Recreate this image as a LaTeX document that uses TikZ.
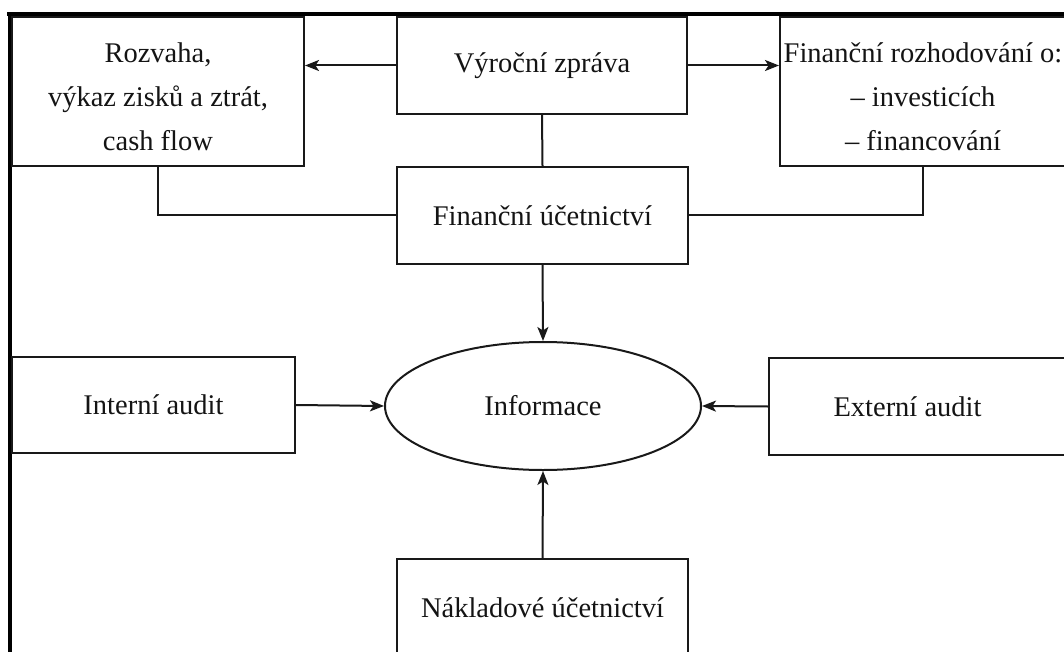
\documentclass[tikz,border=0pt]{standalone}
\usepackage{fontspec}
\setmainfont{Liberation Serif}
\usetikzlibrary{shapes.geometric,arrows.meta}

\tikzset{
  label font/.style={font=\fontsize{28.5}{44}\selectfont, text=black!92},
  box/.style={draw=black!90, line width=2pt, rectangle, inner sep=0pt,
    align=center, label font},
  oval/.style={draw=black!90, line width=2pt, ellipse, inner sep=0pt,
    minimum width=316pt, minimum height=128pt, label font},
  link/.style={line width=2pt, draw=black!90},
  flow/.style={link, -{Stealth[length=14pt,width=11pt,inset=3.5pt]}},
  frame/.style={line width=3.4pt, draw=black}
}
% taller first line, so a three-line block sits a little low in its box
\newcommand\lowstrut{\rule{0pt}{31pt}}

\begin{document}
\begin{tikzpicture}[x=1pt, y=-1pt]
  \useasboundingbox (0,0) rectangle (1064,652);
  \clip (0,0) rectangle (1064,652);
  \fill[white] (0,0) rectangle (1064,652);

  % page frame (top and left rule)
  \draw[frame] (7,14) -- (1070,14);
  \draw[frame] (10,12.3) -- (10,660);

  % boxes
  \node[box, minimum width=292pt, minimum height=149pt] (rozv) at (158,91.5)
    {\lowstrut Rozvaha,\\ výkaz zisků a ztrát,\\ cash flow};
  \node[box, minimum width=290pt, minimum height=97pt] (vz) at (542,65.5)
    {Výroční zpráva};
  \node[box, minimum width=286pt, minimum height=149pt] (fr) at (923,91.5)
    {\lowstrut Finanční rozhodování o:\\ – investicích\\ – financování};
  \node[box, minimum width=291pt, minimum height=97pt] (fu) at (542.5,215.5)
    {Finanční účetnictví};
  \node[oval] (info) at (543,406) {Informace};
  \node[box, minimum width=283pt, minimum height=96pt] (ia) at (153.5,405)
    {Interní audit};
  \node[box, minimum width=299pt, minimum height=97pt] (ea) at (918.5,406.5)
    {Externí audit\hspace*{22pt}};
  \node[box, minimum width=291pt, minimum height=98pt] (nu) at (542.5,608)
    {Nákladové účetnictví};

  % connectors
  \draw[flow] (vz.west) -- (vz.west -| rozv.east);
  \draw[flow] (vz.east) -- (vz.east -| fr.west);
  \draw[link] (vz.south) -- (fu.north);
  \draw[link] (rozv.south) |- (fu.west);
  \draw[link] (fu.east) -| (fr.south);
  \draw[flow] (fu.south) -- (info.north);
  \draw[flow] (ia.east) -- (info.west);
  \draw[flow] (ea.west) -- (info.east);
  \draw[flow] (nu.north) -- (info.south);
\end{tikzpicture}
\end{document}
